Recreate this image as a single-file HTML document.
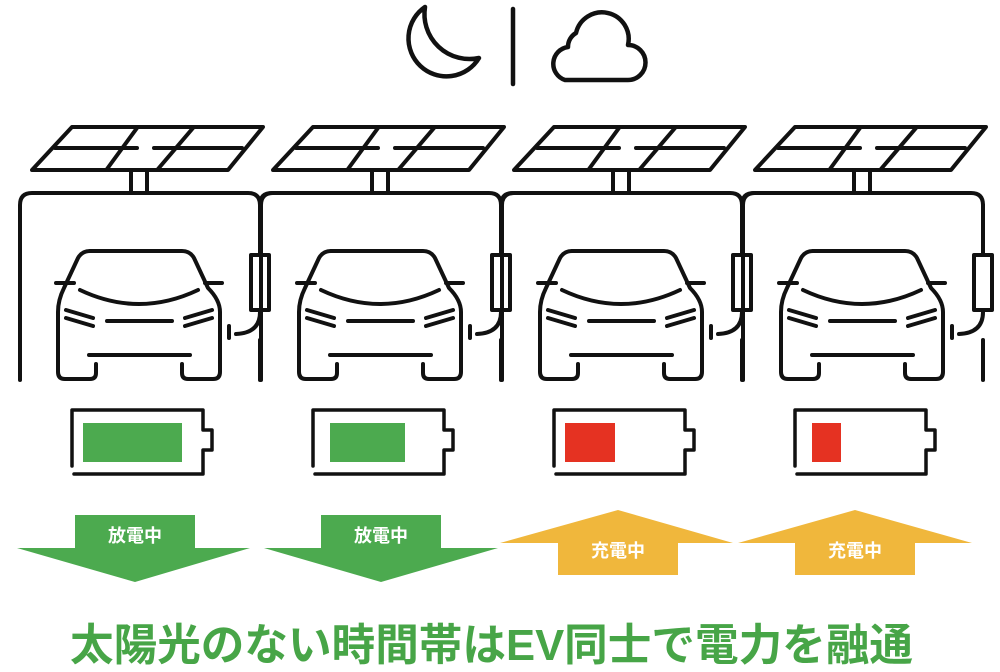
<!DOCTYPE html>
<html><head><meta charset="utf-8"><style>
html,body{margin:0;padding:0;background:#fff;width:1000px;height:672px;overflow:hidden}
</style></head><body>
<svg width="1000" height="672" viewBox="0 0 1000 672" xmlns="http://www.w3.org/2000/svg">
<defs>
<g id="unit" fill="none" stroke="#111" stroke-width="4" stroke-linecap="round" stroke-linejoin="round">
  <path d="M72 127 L263 127 L228 170 L32 170 Z"/>
  <path d="M137 128 L107 169 M193 128 L158 169"/>
  <path d="M55 148 L137 148 M154 148 L242 148"/>
  <path d="M131 170 V193 M147 170 V193"/>
  <path d="M20 380 V205 Q20 193 32 193 H248 Q260 193 260 205"/>
  <path d="M260 205 V255"/>
  <rect x="251" y="255" width="18" height="55"/>
  <path d="M260 312 Q260 333 236 334"/>
  <path d="M229 326 V338"/>
  <path d="M260 340 V380"/>
  <path d="M90 251 H182 Q190 251 194 258 L208 288 Q220 300 220 312 V372 Q220 379 213 379 H188 Q182 379 182 373 V364"/>
  <path d="M90 251 Q82 251 78 258 L64 288 Q58 300 58 312 V372 Q58 379 65 379 H90 Q96 379 96 373 V364"/>
  <path d="M56 283 H74 M205 283 H222"/>
  <path d="M80 290 Q139 318 198 290"/>
  <path d="M66 310 L93 318 M66 318 L93 326 M212 310 L185 318 M212 318 L185 326"/>
  <path d="M107 321 H172"/>
  <path d="M89 355 H190"/>
  <path d="M72 466 V410 H203 V430 H212 V450 H203 V474 H74" stroke-width="3.5"/>
</g>
<path id="hook" d="M260 205 Q260 193 272 193" fill="none" stroke="#111" stroke-width="4" stroke-linecap="round"/>
</defs>
<g fill="none" stroke="#111" stroke-width="4.5" stroke-linecap="round" stroke-linejoin="round">
  <path d="M425 7 A38 38 0 1 0 479 58 A45 45 0 0 1 425 7 Z"/>
  <path d="M513 9 V84"/>
  <path d="M565 80 H628 A17 17 0 0 0 628 45 A25 25 0 0 0 576 33 A16 16 0 0 0 568 47 A17 17 0 0 0 565 80 Z"/>
</g>
<use href="#unit"/>
<use href="#unit" x="241"/>
<use href="#unit" x="482"/>
<use href="#unit" x="723"/>
<use href="#hook"/>
<use href="#hook" x="241"/>
<use href="#hook" x="482"/>
<rect x="83" y="423" width="99" height="39" fill="#4caa4f"/>
<rect x="330" y="423" width="75" height="39" fill="#4caa4f"/>
<rect x="565" y="423" width="50" height="39" fill="#e53222"/>
<rect x="812" y="423" width="29" height="39" fill="#e53222"/>
<path d="M75 515 H195 V548 H250 L135 582 L17 548 H75 Z" fill="#4caa4f"/>
<path d="M321 515 H441 V548 H498 L381 582 L264 548 H321 Z" fill="#4caa4f"/>
<path d="M558 575 H678 V543 H733 L618 510 L500 543 H558 Z" fill="#f0b73c"/>
<path d="M795 575 H915 V543 H972 L855 510 L738 543 H795 Z" fill="#f0b73c"/>
<g font-family="Liberation Sans, 'Noto Sans CJK JP', sans-serif" font-weight="bold" font-size="18" fill="#fff" text-anchor="middle">
  <text x="135" y="542">放電中</text>
  <text x="381" y="542">放電中</text>
  <text x="618" y="557">充電中</text>
  <text x="855" y="557">充電中</text>
</g>
<text x="70" y="660" font-family="Liberation Sans, 'Noto Sans CJK JP', sans-serif" font-weight="bold" font-size="44" fill="#47a547" textLength="843" lengthAdjust="spacingAndGlyphs">太陽光のない時間帯はEV同士で電力を融通</text>
</svg>
</body></html>
